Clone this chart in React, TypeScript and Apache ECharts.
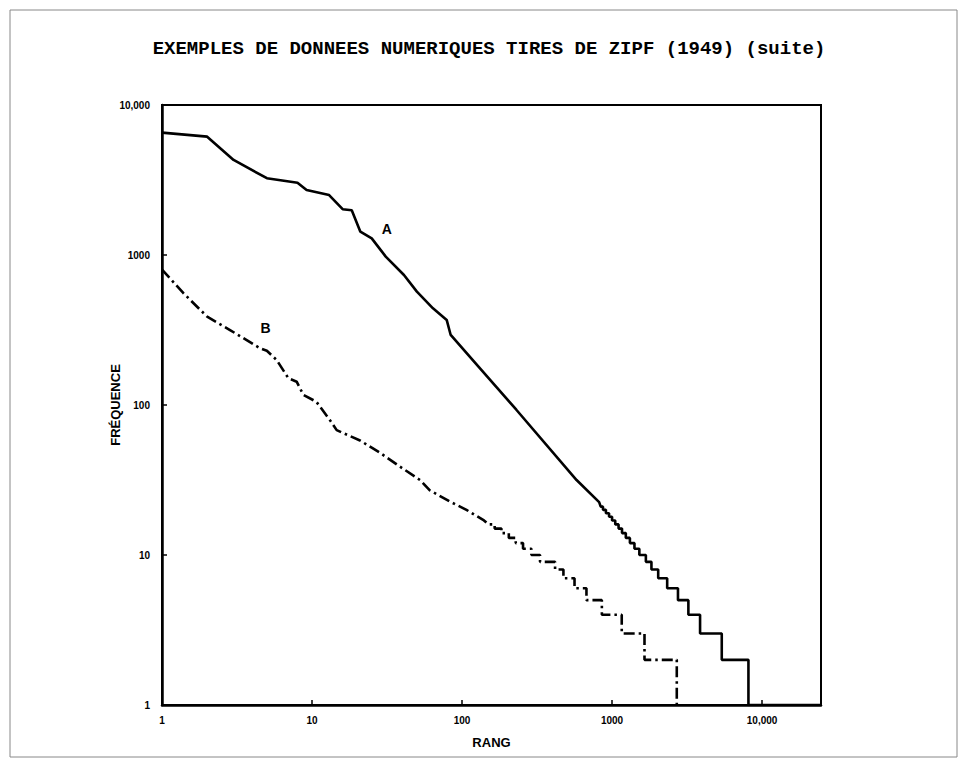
import React, { useEffect, useRef } from "react";
import * as echarts from "echarts";

// ---- texts ----
const chartTitle = "EXEMPLES DE DONNEES NUMERIQUES TIRES DE ZIPF (1949) (suite)";
const xAxisName = "RANG";
const yAxisName = "FRÉQUENCE";
const decadeLabels = ["1", "10", "100", "1000", "10,000"];
const curveNames = ["A", "B"];

// ---- axis ranges ----
const xRange = [1, 24700];
const yRange = [1, 10000];

// ---- curve A (solid) : rank, frequency ----
const curveAHead: [number, number][] = [
  [1, 6540], [2, 6150], [3, 4300], [5, 3250], [8, 3030], [9.2, 2710],
  [13, 2510], [16, 2020], [18.4, 1990], [21, 1430], [25, 1290], [31, 975],
  [41, 736], [50, 570], [64, 441], [79, 369], [84, 293], [130, 178],
  [230, 93], [580, 31.6], [820, 22.5],
];
const curveAStepLevels = [21, 20, 19, 18, 17, 16, 15, 14, 13, 12, 11, 10, 9, 8, 7, 6, 5, 4, 3, 2, 1];
const curveAStepStarts = [840, 870, 910, 955, 1000, 1050, 1105, 1165, 1235, 1315, 1410, 1520, 1680, 1830, 2030, 2330, 2750, 3226, 3860, 5385, 8110];
const curveAEnd = 24700;

// ---- curve B (dash-dot) : rank, frequency ----
const curveBHead: [number, number][] = [
  [1, 800], [1.39, 556], [2, 388], [2.84, 316], [4.5, 239], [5, 230],
  [5.8, 200], [6.95, 151], [7.9, 143], [8.75, 117], [10.7, 105], [13.2, 79],
  [14.6, 68], [20.9, 58], [28.4, 48], [38.6, 38.8], [52.5, 31.6], [61, 27],
  [83, 22.7], [107, 20], [140, 17],
];
const curveBStepLevels = [16, 15, 14, 13, 12, 11, 10, 9, 8, 7, 6, 5, 4, 3, 2];
const curveBStepStarts = [150, 165, 183, 205, 228, 255, 290, 331, 417, 474, 562, 675, 855, 1160, 1645];
const curveBEnd = 2700;
const curveBEndLevel = 1;

// ---- curve letter positions (rank, frequency) ----
const labelAPos: [number, number] = [31.5, 1500];
const labelBPos: [number, number] = [4.9, 325];

function staircase(levels: number[], starts: number[], end: number): [number, number][] {
  const pts: [number, number][] = [];
  for (let i = 0; i < levels.length; i++) {
    const x0 = starts[i];
    const x1 = i + 1 < starts.length ? starts[i + 1] : end;
    pts.push([x0, levels[i]], [x1, levels[i]]);
  }
  return pts;
}

function decadeFormatter(v: number): string {
  const l = Math.log10(v);
  const r = Math.round(l);
  if (Math.abs(l - r) < 1e-6 && r >= 0 && r < decadeLabels.length) return decadeLabels[r];
  return "";
}

const INK = "#000";
const NARROW = "'Liberation Sans Narrow', 'Liberation Sans', Arial, sans-serif";

export default function App() {
  const ref = useRef<HTMLDivElement>(null);
  useEffect(() => {
    if (!ref.current) return;
    const chart = echarts.init(ref.current, undefined, { renderer: "svg" });
    const dataA = [...curveAHead, ...staircase(curveAStepLevels, curveAStepStarts, curveAEnd)];
    const dataB = [
      ...curveBHead,
      ...staircase(curveBStepLevels, curveBStepStarts, curveBEnd),
      [curveBEnd, curveBEndLevel] as [number, number],
    ];
    const axisCommon = {
      type: "log" as const,
      logBase: 10,
      axisLine: { show: true, lineStyle: { color: INK, width: 2.5 } },
      axisTick: { show: true, inside: true, length: 5, lineStyle: { color: INK, width: 1.5 } },
      minorTick: { show: false },
      splitLine: { show: false },
      nameMoveOverlap: false,
      axisLabel: {
        formatter: decadeFormatter,
        color: INK,
        fontFamily: NARROW,
        fontWeight: "bold" as const,
        fontSize: 10,
      },
      nameTextStyle: { color: INK, fontFamily: NARROW, fontWeight: "bold" as const, fontSize: 13 },
    };
    chart.setOption({
      animation: false,
      backgroundColor: "#fff",
      title: {
        text: chartTitle,
        left: 484,
        top: 34,
        textAlign: "center",
        textStyle: { fontFamily: "'Liberation Mono', 'DejaVu Sans Mono', monospace", fontWeight: "bold", fontSize: 19, color: INK },
      },
      graphic: [
        {
          type: "rect",
          shape: { x: 10, y: 10, width: 947, height: 747 },
          style: { fill: "none", stroke: "#888", lineWidth: 1 },
          silent: true,
        },
      ],
      grid: { left: 162, top: 105, width: 659, height: 600, show: true, borderColor: INK, borderWidth: 2, backgroundColor: "transparent" },
      xAxis: {
        ...axisCommon,
        min: xRange[0],
        max: xRange[1],
        name: xAxisName,
        nameLocation: "middle",
        nameGap: 31,
        axisLabel: { ...axisCommon.axisLabel, margin: 10 },
      },
      yAxis: {
        ...axisCommon,
        min: yRange[0],
        max: yRange[1],
        name: yAxisName,
        nameLocation: "middle",
        nameGap: 40,
        nameRotate: 90,
        axisLabel: { ...axisCommon.axisLabel, margin: 12 },
      },
      series: [
        {
          name: curveNames[0],
          type: "line",
          data: dataA,
          showSymbol: false,
          symbol: "none",
          lineStyle: { color: INK, width: 2.6 },
          silent: true,
          z: 3,
        },
        {
          name: curveNames[1],
          type: "line",
          data: dataB,
          showSymbol: false,
          symbol: "none",
          lineStyle: { color: INK, width: 2.6, type: [11, 4, 2.5, 4] },
          silent: true,
          z: 3,
        },
        {
          type: "scatter",
          data: [
            { value: labelAPos, name: curveNames[0] },
            { value: labelBPos, name: curveNames[1] },
          ],
          symbolSize: 1,
          itemStyle: { color: "#fff", opacity: 0 },
          label: {
            show: true,
            position: "inside",
            formatter: (p: any) => p.name,
            color: INK,
            opacity: 1,
            textBorderWidth: 0,
            fontFamily: "'Liberation Sans', Arial, sans-serif",
            fontWeight: "bold",
            fontSize: 14,
          },
          silent: true,
          z: 4,
        },
      ],
    });
    return () => chart.dispose();
  }, []);
  return <div ref={ref} style={{ position: "fixed", left: 0, top: 0, width: 966, height: 775 }} />;
}
